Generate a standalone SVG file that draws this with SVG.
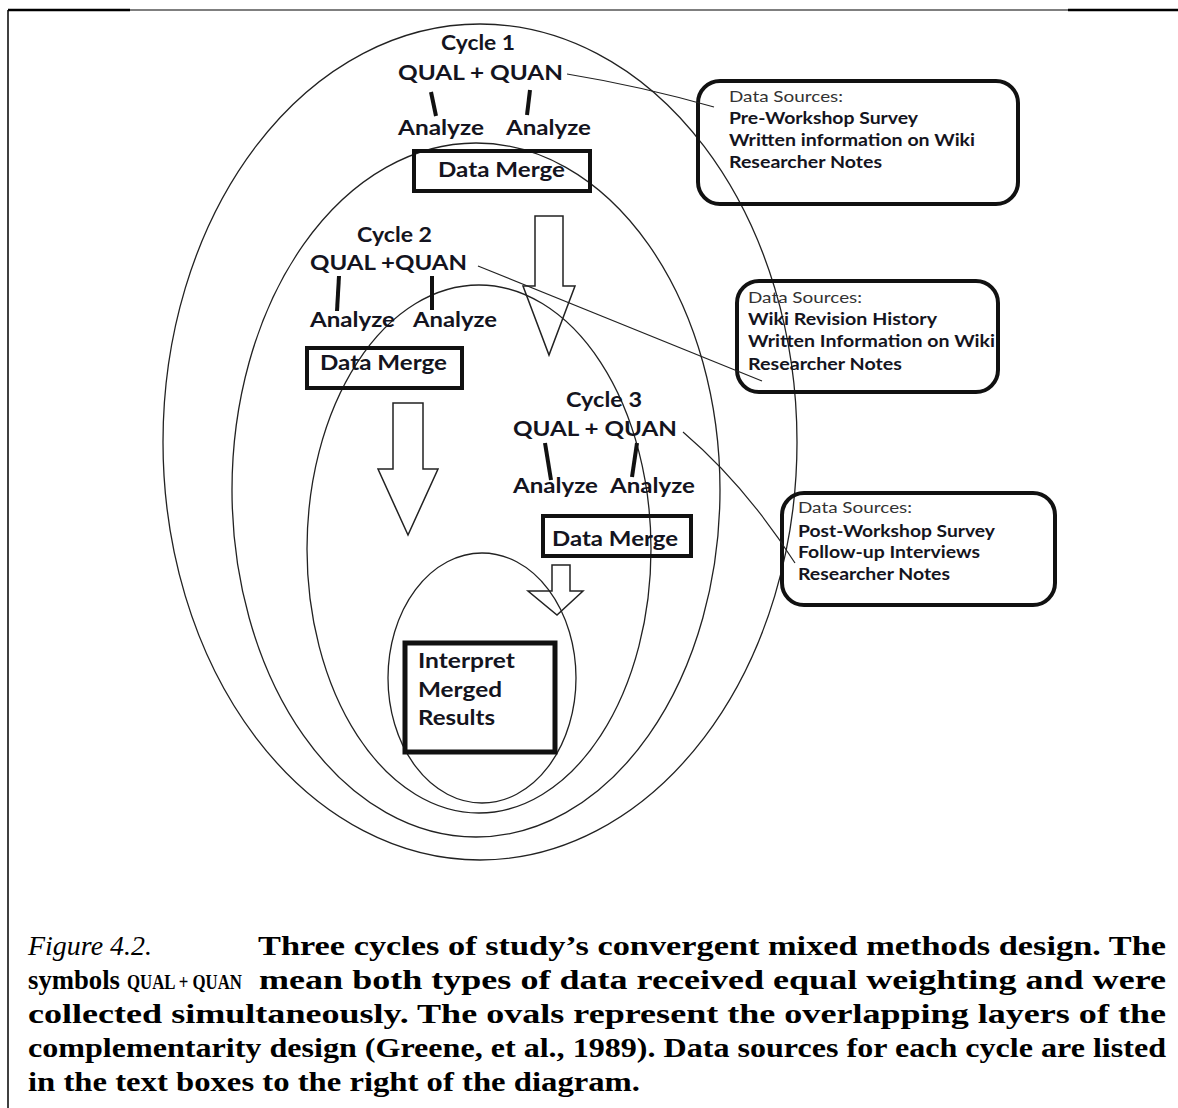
<svg xmlns="http://www.w3.org/2000/svg" width="1178" height="1108" viewBox="0 0 1178 1108">
<style>
.ov{fill:none;stroke:#222;stroke-width:1.3}
.t{font-family:Lato,"Open Sans","Liberation Sans",sans-serif;font-weight:bold;font-size:21px;fill:#141420}
.ds{font-family:Lato,"Open Sans","Liberation Sans",sans-serif;font-size:15px;fill:#333}
.di{font-family:Lato,"Open Sans","Liberation Sans",sans-serif;font-weight:bold;font-size:17px;fill:#141420}
.box{fill:none;stroke:#111;stroke-width:4}
.rbox{fill:none;stroke:#111;stroke-width:4}
.bar{stroke:#111;stroke-width:4;stroke-linecap:butt}
.arr{fill:none;stroke:#222;stroke-width:1.5;stroke-linejoin:miter}
.con{fill:none;stroke:#222;stroke-width:1.2}
.cap{font-family:"Liberation Serif","Times New Roman",serif;font-weight:bold;font-size:27px;fill:#000}
</style>
<rect width="1178" height="1108" fill="#fff"/>
<g id="frame">
<line x1="8" y1="10" x2="1178" y2="10" stroke="#000" stroke-width="1.2"/>
<line x1="8" y1="10" x2="130" y2="10" stroke="#000" stroke-width="2.5"/>
<line x1="1068" y1="10" x2="1178" y2="10" stroke="#000" stroke-width="2.5"/>
<line x1="8" y1="10" x2="8" y2="1108" stroke="#000" stroke-width="1.5"/>
</g>
<g id="ovals">
<ellipse id="oval1" class="ov" cx="480" cy="442" rx="317" ry="418"/>
<ellipse id="oval2" class="ov" cx="476" cy="490" rx="244" ry="347"/>
<ellipse id="oval3" class="ov" cx="479" cy="549" rx="172" ry="264"/>
<ellipse id="oval4" class="ov" cx="482" cy="678" rx="94" ry="125"/>
</g>
<g id="cycle1">
<text class="t" x="441" y="50" textLength="74" lengthAdjust="spacingAndGlyphs">Cycle 1</text>
<text class="t" x="398" y="80" textLength="165" lengthAdjust="spacingAndGlyphs">QUAL + QUAN</text>
<line class="bar" x1="431" y1="92" x2="436" y2="116"/>
<line class="bar" x1="530" y1="90" x2="527" y2="115"/>
<text class="t" x="398" y="135" textLength="86" lengthAdjust="spacingAndGlyphs">Analyze</text>
<text class="t" x="506" y="135" textLength="85" lengthAdjust="spacingAndGlyphs">Analyze</text>
</g>
<g id="merge1">
<rect class="box" x="414" y="151" width="176" height="40"/>
<text class="t" x="438" y="177" textLength="127" lengthAdjust="spacingAndGlyphs">Data Merge</text>
</g>
<g id="cycle2">
<text class="t" x="357" y="242" textLength="75" lengthAdjust="spacingAndGlyphs">Cycle 2</text>
<text class="t" x="310" y="270" textLength="157" lengthAdjust="spacingAndGlyphs">QUAL +QUAN</text>
<line class="bar" x1="339" y1="276" x2="337" y2="311"/>
<line class="bar" x1="432" y1="276" x2="432" y2="310"/>
<text class="t" x="310" y="327" textLength="85" lengthAdjust="spacingAndGlyphs">Analyze</text>
<text class="t" x="413" y="327" textLength="84" lengthAdjust="spacingAndGlyphs">Analyze</text>
</g>
<g id="merge2">
<rect class="box" x="307" y="348" width="155" height="40"/>
<text class="t" x="320" y="370" textLength="127" lengthAdjust="spacingAndGlyphs">Data Merge</text>
</g>
<g id="cycle3">
<text class="t" x="566" y="407" textLength="76" lengthAdjust="spacingAndGlyphs">Cycle 3</text>
<text class="t" x="513" y="436" textLength="164" lengthAdjust="spacingAndGlyphs">QUAL + QUAN</text>
<line class="bar" x1="545" y1="443" x2="551" y2="480"/>
<line class="bar" x1="637" y1="443" x2="632" y2="477"/>
<text class="t" x="513" y="493" textLength="85" lengthAdjust="spacingAndGlyphs">Analyze</text>
<text class="t" x="610" y="493" textLength="85" lengthAdjust="spacingAndGlyphs">Analyze</text>
</g>
<g id="merge3">
<rect class="box" x="543" y="516" width="148" height="40"/>
<text class="t" x="552" y="546" textLength="126" lengthAdjust="spacingAndGlyphs">Data Merge</text>
</g>
<g id="interpret">
<rect class="box" x="405" y="643" width="150" height="109" style="stroke-width:5"/>
<text class="t" x="418" y="668" textLength="97" lengthAdjust="spacingAndGlyphs">Interpret</text>
<text class="t" x="418" y="697" textLength="84" lengthAdjust="spacingAndGlyphs">Merged</text>
<text class="t" x="418" y="725" textLength="77" lengthAdjust="spacingAndGlyphs">Results</text>
</g>
<g id="arrows">
<path id="arrow1" class="arr" d="M535,216 H563 V286 H575 L549,355 L523,286 H535 Z"/>
<path id="arrow2" class="arr" d="M393,403 H423 V469 H438 L408,535 L378,469 H393 Z"/>
<path id="arrow3" class="arr" d="M552,565 H570 V591 H583 L557,615 L528,591 H552 Z"/>
</g>
<g id="sources1">
<rect class="rbox" x="698" y="81" width="320" height="123" rx="22"/>
<text class="ds" x="729" y="102" textLength="114" lengthAdjust="spacingAndGlyphs">Data Sources:</text>
<text class="di" x="729" y="124" textLength="189" lengthAdjust="spacingAndGlyphs">Pre-Workshop Survey</text>
<text class="di" x="729" y="146" textLength="246" lengthAdjust="spacingAndGlyphs">Written information on Wiki</text>
<text class="di" x="729" y="168" textLength="153" lengthAdjust="spacingAndGlyphs">Researcher Notes</text>
</g>
<g id="sources2">
<rect class="rbox" x="737" y="281" width="261" height="111" rx="22"/>
<text class="ds" x="748" y="303" textLength="114" lengthAdjust="spacingAndGlyphs">Data Sources:</text>
<text class="di" x="748" y="325" textLength="189" lengthAdjust="spacingAndGlyphs">Wiki Revision History</text>
<text class="di" x="748" y="347" textLength="247" lengthAdjust="spacingAndGlyphs">Written Information on Wiki</text>
<text class="di" x="748" y="370" textLength="154" lengthAdjust="spacingAndGlyphs">Researcher Notes</text>
</g>
<g id="sources3">
<rect class="rbox" x="782" y="493" width="273" height="112" rx="22"/>
<text class="ds" x="798" y="513" textLength="114" lengthAdjust="spacingAndGlyphs">Data Sources:</text>
<text class="di" x="798" y="537" textLength="197" lengthAdjust="spacingAndGlyphs">Post-Workshop Survey</text>
<text class="di" x="798" y="558" textLength="182" lengthAdjust="spacingAndGlyphs">Follow-up Interviews</text>
<text class="di" x="798" y="580" textLength="152" lengthAdjust="spacingAndGlyphs">Researcher Notes</text>
</g>
<g id="connectors">
<path class="con" d="M567,74 Q640,86 714,107"/>
<path class="con" d="M478,266 L762,381"/>
<path class="con" d="M683,432 Q745,485 795,563"/>
</g>
<g id="caption">
<text class="cap" x="28" y="955" style="font-style:italic;font-weight:normal" textLength="124" lengthAdjust="spacingAndGlyphs">Figure 4.2.</text>
<text class="cap" x="258" y="955" textLength="908" lengthAdjust="spacingAndGlyphs">Three cycles of study’s convergent mixed methods design.  The</text>
<text class="cap" x="28" y="989" textLength="92" lengthAdjust="spacingAndGlyphs">symbols</text>
<text class="cap" x="127" y="989" style="font-size:21px" textLength="115" lengthAdjust="spacingAndGlyphs">QUAL + QUAN</text>
<text class="cap" x="259" y="989" textLength="907" lengthAdjust="spacingAndGlyphs">mean both types of data received equal weighting and were</text>
<text class="cap" x="28" y="1023" textLength="1138" lengthAdjust="spacingAndGlyphs">collected simultaneously. The ovals represent the overlapping layers of the</text>
<text class="cap" x="28" y="1057" textLength="1138" lengthAdjust="spacingAndGlyphs">complementarity design (Greene, et al., 1989).  Data sources for each cycle are listed</text>
<text class="cap" x="28" y="1091" textLength="612" lengthAdjust="spacingAndGlyphs">in the text boxes to the right of the diagram.</text>
</g>
</svg>
